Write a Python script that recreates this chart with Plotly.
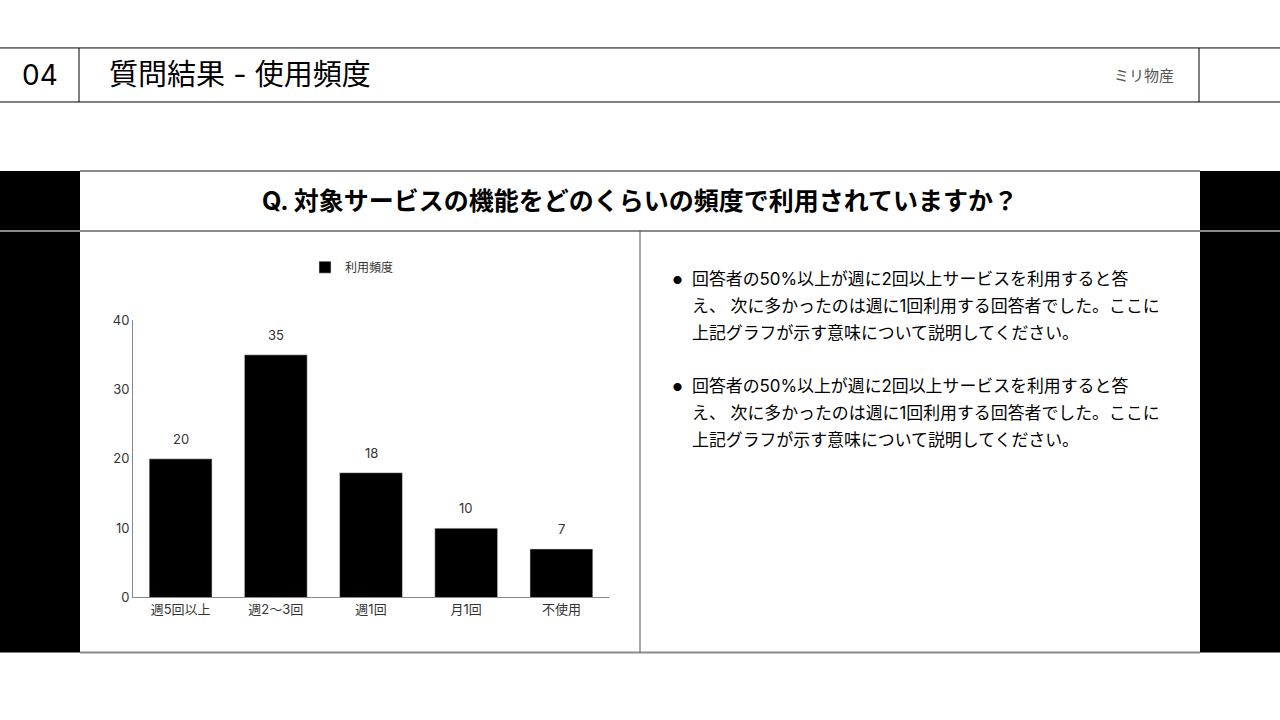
import plotly.graph_objects as go

W, H = 1280, 720

# data
categories = ["週5回以上", "週2〜3回", "週1回", "月1回", "不使用"]
counts = [20, 35, 18, 10, 7]
series_name = "利用頻度"
y_ticks = [0, 10, 20, 30, 40]

section_no = "04"
page_title = "質問結果 - 使用頻度"
company = "ミリ物産"
question = "Q. 対象サービスの機能をどのくらいの頻度で利用されていますか？"
bullet_lines = [
    "回答者の50%以上が週に2回以上サービスを利用すると答",
    "え、 次に多かったのは週に1回利用する回答者でした。ここに",
    "上記グラフが示す意味について説明してください。",
]
n_bullets = 2

FONT = "Inter, Noto Sans CJK JP"

# the screenshot shows the page slightly squashed vertically
# (y_shot ~= 0.977 * y_page + 8), so positions are set against the shot
SQ_A, SQ_B = 0.9768, 8.1


def px(x):
    return x / W


def py(y):
    return 1 - ((y - SQ_B) / SQ_A) / H


def line(x0, y0, x1, y1, color, width=1):
    return dict(type="line", xref="paper", yref="paper",
                x0=px(x0), y0=py(y0), x1=px(x1), y1=py(y1),
                line=dict(color=color, width=width))


def rect(x0, y0, x1, y1, color):
    return dict(type="rect", xref="paper", yref="paper",
                x0=px(x0), y0=py(y0), x1=px(x1), y1=py(y1),
                fillcolor=color, line=dict(width=0), layer="below")


fig = go.Figure()
fig.add_trace(
    go.Bar(
        x=categories,
        y=counts,
        name=series_name,
        marker=dict(color="#000000"),
        width=0.66,
        showlegend=True,
    )
)

shapes = [
    # header
    line(0, 48, W, 48, "#000000"),
    line(0, 102, W, 102, "#000000"),
    line(79, 48, 79, 102, "#000000"),
    line(1199, 48, 1199, 102, "#000000"),
    # side bands
    rect(0, 171, 80, 652, "#000000"),
    rect(1200, 171, 1280, 652, "#000000"),
    # panel frame
    line(80, 171, 1200, 171, "#8a8a8a", 2),
    line(0, 231, W, 231, "#8a8a8a", 2),
    line(80, 652, 1200, 652, "#8a8a8a", 2),
    line(640, 231, 640, 652, "#555555", 1),
]

annotations = [
    dict(text=section_no, x=px(40), y=py(75), xref="paper", yref="paper",
         showarrow=False, xanchor="center", yanchor="middle",
         font=dict(family=FONT, size=28, color="#000000")),
    dict(text=page_title, x=px(107), y=py(75), xref="paper", yref="paper",
         showarrow=False, xanchor="left", yanchor="middle",
         font=dict(family=FONT, size=29, color="#000000")),
    dict(text=company, x=px(1176), y=py(76), xref="paper", yref="paper",
         showarrow=False, xanchor="right", yanchor="middle",
         font=dict(family=FONT, size=15, color="#555555")),
    dict(text="<b>" + question + "</b>", x=px(640), y=py(201), xref="paper", yref="paper",
         showarrow=False, xanchor="center", yanchor="middle",
         font=dict(family=FONT, size=25, color="#000000")),
]

# value labels above bars
for c, v in zip(categories, counts):
    annotations.append(
        dict(text=str(v), x=c, y=v, xref="x", yref="y", showarrow=False,
             xanchor="center", yanchor="bottom", yshift=10,
             font=dict(family=FONT, size=13, color="#333333"))
    )

# bullet text
for b in range(n_bullets):
    top = 279 + b * 107
    annotations.append(
        dict(text="●", x=px(677), y=py(top), xref="paper", yref="paper",
             showarrow=False, xanchor="center", yanchor="middle",
             font=dict(family="Noto Sans CJK JP", size=9, color="#000000"))
    )
    for i, t in enumerate(bullet_lines):
        annotations.append(
            dict(text=t, x=px(690), y=py(top + i * 27), xref="paper", yref="paper",
                 showarrow=False, xanchor="left", yanchor="middle",
                 font=dict(family=FONT, size=16.9, color="#000000"))
        )

fig.update_layout(
    width=W,
    height=H,
    margin=dict(l=0, r=0, t=0, b=0),
    paper_bgcolor="#ffffff",
    plot_bgcolor="#ffffff",
    font=dict(family=FONT, color="#333333"),
    bargap=0.34,
    xaxis=dict(
        domain=[px(133), px(609)],
        showline=True,
        linecolor="#888888",
        linewidth=1,
        showgrid=False,
        ticks="",
        tickfont=dict(family=FONT, size=13, color="#333333"),
        fixedrange=True,
    ),
    yaxis=dict(
        domain=[py(597), py(320)],
        range=[0, 40],
        tickvals=y_ticks,
        showline=True,
        linecolor="#888888",
        linewidth=1,
        showgrid=False,
        zeroline=False,
        ticks="",
        tickfont=dict(family=FONT, size=13, color="#333333"),
        fixedrange=True,
    ),
    legend=dict(
        orientation="h",
        x=px(352),
        y=py(267),
        xanchor="center",
        yanchor="middle",
        font=dict(family=FONT, size=12, color="#333333"),
        itemwidth=30,
    ),
    shapes=shapes,
    annotations=annotations,
)

pin_script = (
    "document.body.style.margin='0';"
    "document.body.style.overflow='hidden';"
    "var gd=document.getElementById('{plot_id}');"
    "gd.style.position='fixed';gd.style.top='0';gd.style.left='0';"
)

fig.write_html(
    "out.html",
    config={"displayModeBar": False},
    post_script=pin_script,
)
